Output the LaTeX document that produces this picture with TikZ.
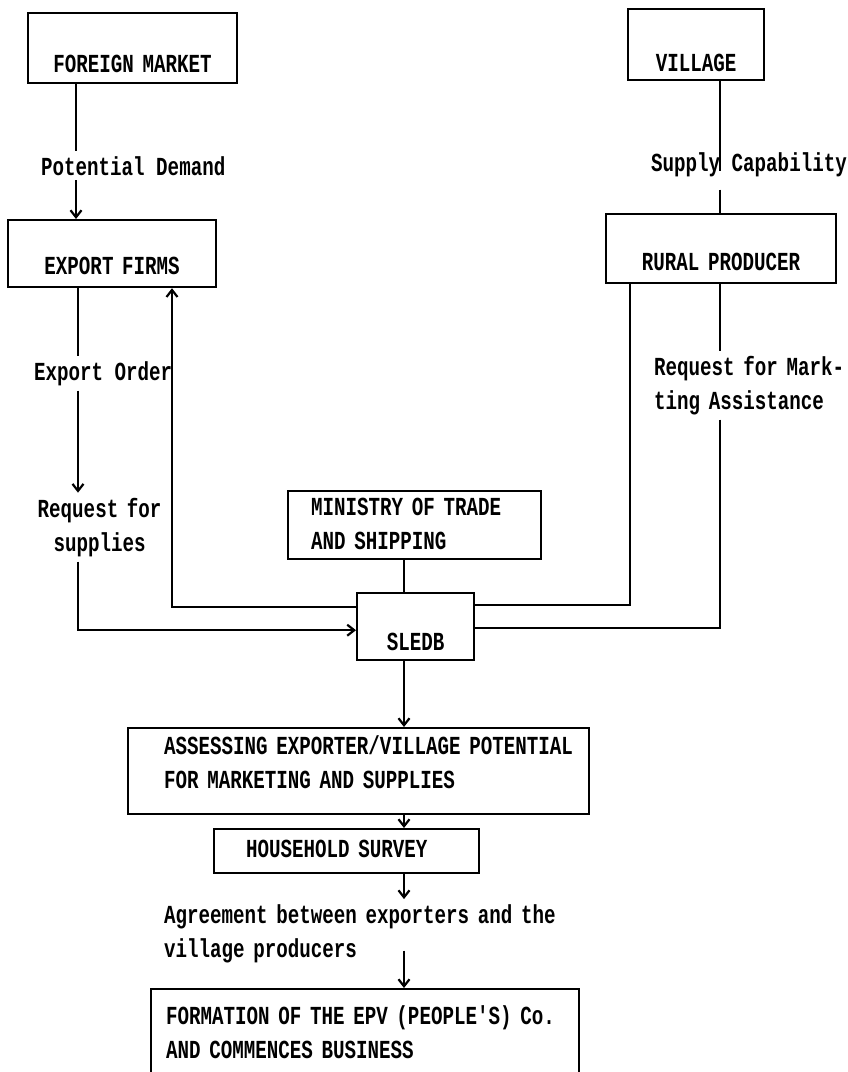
\documentclass[tikz,border=0pt]{standalone}
\usepackage{fontspec}
\setmonofont{Liberation Mono}[FakeStretch=0.738]
\usetikzlibrary{arrows.meta}

\begin{document}
\begin{tikzpicture}[x=1pt,y=-1pt,line width=2.2pt,
  font=\ttfamily\bfseries\fontsize{26}{34}\selectfont]
\tikzstyle{block} = [draw, inner sep=0pt, anchor=north west]
\tikzstyle{note} = [inner xsep=0pt, inner ysep=4pt, anchor=base west]
\tikzstyle{line} = [draw]
\tikzstyle{flow} = [draw, -{Straight Barb[length=7pt,width=11pt]}]

\useasboundingbox (0,0) rectangle (847,1072);

% boxes
\node [block, text width=209pt, text height=59pt, text depth=11pt, align=center] (fm) at (27,12) {FOREIGN MARKET};
\node [block, text width=136pt, text height=62pt, text depth=9pt, align=center] (vil) at (627,8) {VILLAGE};
\node [block, text width=208pt, text height=54pt, text depth=13pt, align=center] (ef) at (7,219) {EXPORT FIRMS};
\node [block, text width=230pt, text height=56pt, text depth=13pt, align=center] (rp) at (605,213) {RURAL PRODUCER};
\node [block, text width=253pt, text height=24pt, text depth=44pt] (mts) at (287,490)
  {\hbox to 23pt{}\begin{tabular}[t]{@{}l@{}}MINISTRY OF TRADE\\AND SHIPPING\end{tabular}};
\node [block, text width=117pt, text height=57pt, text depth=10pt, align=center] (sledb) at (356,592) {SLEDB};
\node [block, text width=461pt, text height=26pt, text depth=60pt] (ass) at (127,727)
  {\hbox to 36pt{}\begin{tabular}[t]{@{}l@{}}ASSESSING EXPORTER/VILLAGE POTENTIAL\\FOR MARKETING AND SUPPLIES\end{tabular}};
\node [block, text width=265pt, text height=28pt, text depth=16pt] (hh) at (213,828) {\hbox to 32pt{}HOUSEHOLD SURVEY};
\node [block, text width=428pt, text height=35pt, text depth=55pt] (form) at (150,988)
  {\hbox to 15pt{}\begin{tabular}[t]{@{}l@{}}FORMATION OF THE EPV (PEOPLE'S) Co.\\AND COMMENCES BUSINESS\end{tabular}};

% labels on the flows
\node [note] (pd) at (40,175) {Potential Demand};
\node [note] (sc) at (650,171) {Supply Capability};
\node [note] (eo) at (33,380) {Export Order};
\node [note, text width=127pt, align=center] (rs) at (35,517) {Request for\\supplies};
\node [note, text width=200pt, align=left] (rm) at (653,375) {Request for Mark-\\ting Assistance};
\node [note, text width=410pt, align=left] (agr) at (163,923) {Agreement between exporters and the\\village producers};

% lanes
\coordinate (lA) at (76,0);
\coordinate (lB) at (78,0);
\coordinate (lC) at (172,0);
\coordinate (lD) at (720,0);
\coordinate (lE) at (630,0);
\coordinate (lG) at (404,0);

% left side
\path [line] (fm.south -| lA) -- (pd.north -| lA);
\path [flow] (pd.south -| lA) -- (ef.north -| lA);
\path [line] (ef.south -| lB) -- (eo.north -| lB);
\path [flow] (eo.south -| lB) -- (rs.north -| lB);
\path [flow] (rs.south -| lB) |- ([yshift=31pt]sledb.south west);
\path [flow] ([yshift=54pt]sledb.south west) -| (ef.south -| lC);

% right side
\path [line] (vil.south -| lD) -- (sc.base -| lD);
\path [line, shorten <=8pt] (sc.south -| lD) -- (rp.north -| lD);
\path [line] (rp.south -| lE) |- ([yshift=56pt]sledb.south east);
\path [line] (rp.south -| lD) -- (rm.north -| lD);
\path [line] (rm.south -| lD) |- ([yshift=33pt]sledb.south east);

% centre column
\path [line] (mts.south -| lG) -- (sledb.north -| lG);
\path [flow] (sledb.south -| lG) -- (ass.north -| lG);
\path [flow] (ass.south -| lG) -- (hh.north -| lG);
\path [flow] (hh.south -| lG) -- (agr.north -| lG);
\path [flow, shorten <=-17pt] (agr.south -| lG) -- (form.north -| lG);
\end{tikzpicture}
\end{document}
